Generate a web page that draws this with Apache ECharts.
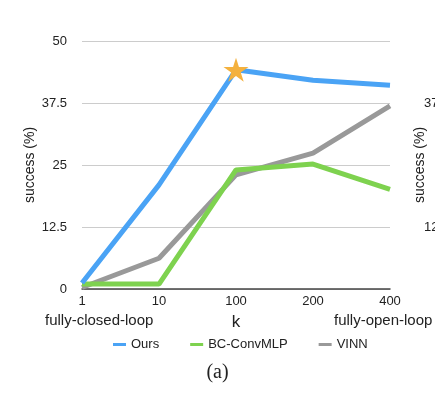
<!DOCTYPE html>
<html>
<head>
<meta charset="utf-8">
<script src="https://cdn.jsdelivr.net/npm/echarts@6/dist/echarts.min.js"></script>
<style>html,body{margin:0;padding:0;background:#fff;}#c{width:435px;height:398px;}</style>
</head>
<body>
<div id="c"></div>
<script>
const categories = ['1', '10', '100', '200', '400'];
const ours = [1.2, 21, 44.2, 42.1, 41.1];
const bcConvMLP = [1, 1, 24, 25.2, 20.1];
const vinn = [0.3, 6.2, 23, 27.4, 36.9];
const yTicks = [0, 12.5, 25, 37.5, 50];
const rightTickLabels = ['37.5', '12.5'];
const seriesNames = ['Ours', 'BC-ConvMLP', 'VINN'];
const endLabels = ['fully-closed-loop', 'fully-open-loop'];
const captionText = '(a)';
const xName = 'k';
const yName = 'success (%)';

const FONT = '"Liberation Sans", Arial, Helvetica, sans-serif';
const colors = ['#4aa3f5', '#7ed24f', '#999999'];
const starPath = 'path://M50,0 L61.23,34.55 L97.55,34.55 L68.17,55.9 L79.39,90.45 L50,69.1 L20.61,90.45 L31.83,55.9 L2.45,34.55 L38.77,34.55 Z';

const chart = echarts.init(document.getElementById('c'), null, {renderer: 'canvas'});
const yAxisBase = {
  type: 'value',
  min: yTicks[0],
  max: yTicks[yTicks.length - 1],
  interval: yTicks[1] - yTicks[0],
  axisLine: {show: false},
  axisTick: {show: false},
  nameLocation: 'middle',
  nameRotate: 90,
  nameMoveOverlap: false,
  nameTextStyle: {fontFamily: FONT, fontSize: 14, color: '#222'}
};
const maxIdx = ours.indexOf(Math.max.apply(null, ours));
chart.setOption({
  animation: false,
  color: colors,
  textStyle: {fontFamily: FONT},
  grid: {left: 82, right: 45, top: 41, bottom: 109, containLabel: false, outerBoundsMode: 'none'},
  legend: {
    data: seriesNames,
    left: 108,
    top: 333,
    icon: 'rect',
    itemWidth: 13,
    itemHeight: 3,
    itemGap: 31,
    textStyle: {fontFamily: FONT, fontSize: 13, color: '#222'}
  },
  xAxis: {
    type: 'category',
    data: categories,
    boundaryGap: false,
    name: xName,
    nameLocation: 'middle',
    nameGap: 25,
    nameMoveOverlap: false,
    nameTextStyle: {fontFamily: FONT, fontSize: 17, color: '#222'},
    axisLine: {lineStyle: {color: '#444', width: 1.5}},
    axisTick: {show: false},
    axisLabel: {fontSize: 13, color: '#222', margin: 6, fontFamily: FONT},
    splitLine: {show: false}
  },
  yAxis: [
    Object.assign({}, yAxisBase, {
      position: 'left',
      name: yName,
      nameGap: 45,
      axisLabel: {fontSize: 13, color: '#222', margin: 15, fontFamily: FONT},
      splitLine: {show: true, lineStyle: {color: '#cccccc', width: 1}}
    }),
    Object.assign({}, yAxisBase, {
      position: 'right',
      name: yName,
      nameGap: 23,
      axisLabel: {
        fontSize: 13, color: '#222', margin: 34, fontFamily: FONT, align: 'left',
        formatter: v => rightTickLabels.indexOf(String(v)) >= 0 ? String(v) : ''
      },
      splitLine: {show: false}
    })
  ],
  graphic: [
    {type: 'text', left: 45, top: 313, style: {text: endLabels[0], font: '15px ' + FONT, fill: '#222'}},
    {type: 'text', left: 334, top: 313, style: {text: endLabels[1], font: '15px ' + FONT, fill: '#222'}},
    {type: 'text', left: 'center', top: 363, style: {text: captionText, font: '20px "Liberation Serif", "Times New Roman", serif', fill: '#222'}}
  ],
  series: [
    {
      name: seriesNames[0], type: 'line', data: ours, symbol: 'none', z: 5,
      lineStyle: {width: 5, color: colors[0]}, itemStyle: {color: colors[0]}
    },
    {
      name: seriesNames[1], type: 'line', data: bcConvMLP, symbol: 'none', z: 4,
      lineStyle: {width: 5, color: colors[1]}, itemStyle: {color: colors[1]}
    },
    {
      name: seriesNames[2], type: 'line', data: vinn, symbol: 'none', z: 3,
      lineStyle: {width: 5, color: colors[2]}, itemStyle: {color: colors[2]}
    },
    {
      name: 'best', type: 'scatter', z: 6, silent: true,
      symbol: starPath, symbolSize: [25, 24], symbolRotate: 0,
      itemStyle: {color: '#f4b13e', opacity: 1},
      data: [[categories[maxIdx], ours[maxIdx]]]
    }
  ]
});
</script>
</body>
</html>
